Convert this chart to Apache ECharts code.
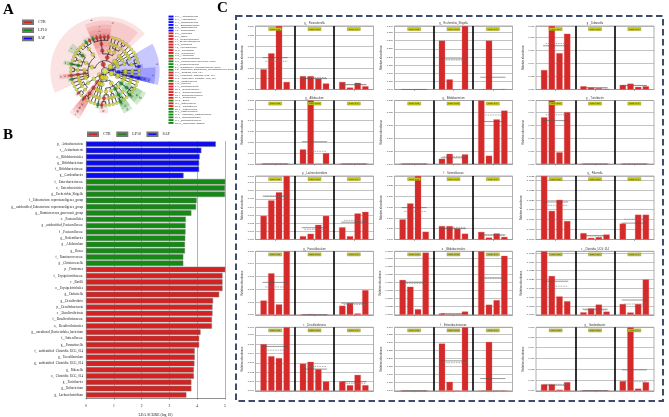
<!DOCTYPE html>
<html><head><meta charset="utf-8">
<script src="https://cdn.jsdelivr.net/npm/echarts@6/dist/echarts.min.js"></script>
<style>html,body{margin:0;padding:0;background:#fff}#c{width:669px;height:417px}</style>
</head><body><div id="c"></div>
<script>
// ================= DATA =================
// Panel B: LDA scores
const ldaFeatures = [
'p__Actinobacteriota','c__Actinobacteria','o__Bifidobacteriales','g__Bifidobacterium','f__Bifidobacteriaceae','g__Gordonibacter',
'f__Enterobacteriaceae','o__Enterobacteriales','g__Escherichia_Shigella','f__Eubacterium_coprostanoligenes_group','g__unidentified_Eubacterium_coprostanoligenes_group','g__Ruminococcus_gauvreauii_group','o__Pasteurellales','g__unidentified_Pasteurellaceae','f__Pasteurellaceae','g__Rodentibacter','g__Allobaculum','g__Bosea','f__Ruminococcaceae','g__Christensenella',
'p__Firmicutes','f__Erysipelotrichaceae','c__Bacilli','o__Erysipelotrichales','g__Dubosiella','g__Desulfovibrio','p__Desulfobacterota','c__Desulfovibrionia','f__Desulfovibrionaceae','o__Desulfovibrionales','g__uncultured_Bacteroidales_bacterium','f__Sutterellaceae','g__Parasutterella','f__unidentified_Clostridia_UCG_014','g__Faecalibaculum','g__unidentified_Clostridia_UCG_014','g__Rikenella','o__Clostridia_UCG_014','g__Turicibacter','g__Ileibacterium','g__Lachnoclostridium'];
const ldaScores = [
4.67,4.15,4.09,4.07,4.07,3.51,
5.02,5.00,5.00,3.98,3.96,3.79,3.59,3.58,3.58,3.57,3.56,3.56,3.50,3.50,
5.01,4.91,4.91,4.91,4.79,4.57,4.55,4.55,4.53,4.53,4.12,4.07,4.07,3.91,3.91,3.90,3.88,3.88,3.79,3.79,3.61];
const ldaGroups = [
'SAP','SAP','SAP','SAP','SAP','SAP',
'LP10','LP10','LP10','LP10','LP10','LP10','LP10','LP10','LP10','LP10','LP10','LP10','LP10','LP10',
'CTR','CTR','CTR','CTR','CTR','CTR','CTR','CTR','CTR','CTR','CTR','CTR','CTR','CTR','CTR','CTR','CTR','CTR','CTR','CTR','CTR'];
const classNames = ['CTR','LP10','SAP'];

// Panel C: relative abundance of 4 samples per class
const panelTitles = [
'g__Parasutterella','g__Escherichia_Shigella','g__Dubosiella',
'g__Allobaculum','g__Bifidobacterium','g__Turicibacter',
'g__Lachnoclostridium','f__Sutterellaceae','g__Rikenella',
'g__Faecalibaculum','o__Bifidobacteriales','c__Clostridia_UCG_014',
'c__Desulfovibrionia','f__Enterobacteriaceae','g__Gordonibacter'];
const panelIntervals = [0.005,0.05,0.002, 0.01,0.005,0.001, 0.001,0.005,0.0005, 0.001,0.0025,0.0005, 0.001,0.05,0.001];
const ctrValues = [
[0.0094,0.0168,0.0295,0.0035],[0.0002,0.0001,0.0003,0.0001],[0.0030,0.0098,0.0056,0.0086],
[0.0001,0.0000,0.0002,0.0001],[0.0000,0.0001,0.0000,0.0000],[0.0036,0.0049,0.0009,0.0040],
[0.0029,0.0048,0.0058,0.0078],[0.0093,0.0167,0.0294,0.0036],[0.0032,0.00144,0.0020,0.00093],
[0.0011,0.0032,0.0008,0.0049],[0.0107,0.0086,0.0017,0.0191],[0.0036,0.0022,0.00104,0.00077],
[0.0050,0.0037,0.0035,0.0068],[0.0002,0.0001,0.0001,0.0002],[0.0006,0.0006,0.0001,0.0008]];
const lp10Values = [
[0.0062,0.0062,0.0050,0.0028],[0.30,0.062,0.0003,0.39],[0.0005,0.0003,0.0002,0.0001],
[0.0133,0.058,0.0001,0.0099],[0.0020,0.0039,0.0000,0.0037],[0.0000,0.0000,0.0000,0.0000],
[0.0004,0.0007,0.0018,0.0029],[0.0062,0.0062,0.0050,0.0027],[0.00032,0.00008,0.00012,0.00025],
[0.0000,0.00005,0.0000,0.0000],[0.0004,0.0000,0.0000,0.0010],[0.00014,0.00036,0.00058,0.00018],
[0.0029,0.0031,0.0023,0.0010],[0.29,0.055,0.0003,0.39],[0.00003,0.00003,0.00002,0.00003]];
const sapValues = [
[0.0035,0.0009,0.0031,0.0015],[0.0001,0.30,0.0001,0.001],[0.0007,0.0009,0.0004,0.0005],
[0.0001,0.0001,0.0000,0.0001],[0.0245,0.0032,0.0172,0.0206],[0.0000,0.0000,0.0000,0.0000],
[0.0015,0.0004,0.0032,0.0034],[0.0035,0.0009,0.0028,0.0012],[0.0008,0.0000,0.00125,0.00125],
[0.0007,0.0009,0.0001,0.0019],[0.0195,0.0031,0.0045,0.0181],[0.00061,0.00013,0.00061,0.0020],
[0.0010,0.0006,0.0017,0.0006],[0.0001,0.30,0.0001,0.0005],[0.0009,0.0059,0.0002,0.0008]];

// Panel A: taxonomic tree (indent = level), |GROUP marks biomarkers
const cladeText = `
p__Actinobacteriota|SAP
 c__Actinobacteria|SAP
  o__Bifidobacteriales|SAP
   f__Bifidobacteriaceae|SAP
    g__Bifidobacterium|SAP
  o__Corynebacteriales
   f__Corynebacteriaceae
    g__Corynebacterium
  o__Micrococcales
   f__Micrococcaceae
    g__Rothia
 c__Coriobacteriia
  o__Coriobacteriales
   f__Eggerthellaceae
    g__Gordonibacter|SAP
    g__Adlercreutzia
    g__Enterorhabdus
   f__Atopobiaceae
    g__Olsenella
p__Patescibacteria
 c__Saccharimonadia
  o__Saccharimonadales
   f__Saccharimonadaceae
    g__Candidatus_Saccharimonas
p__Deferribacterota
 c__Deferribacteres
  o__Deferribacterales
   f__Deferribacteraceae
    g__Mucispirillum
p__Firmicutes|CTR
 c__Negativicutes
  o__Veillonellales
   f__Veillonellaceae
    g__Veillonella
 c__Bacilli|CTR
  o__Lactobacillales
   f__Lactobacillaceae
    g__Lactobacillus
    g__Ligilactobacillus
   f__Streptococcaceae
    g__Lactococcus
   f__Enterococcaceae
    g__Enterococcus
  o__Staphylococcales
   f__Staphylococcaceae
    g__Staphylococcus
  o__Erysipelotrichales|CTR
   f__Erysipelotrichaceae|CTR
    g__Dubosiella|CTR
    g__Faecalibaculum|CTR
    g__Turicibacter|CTR
    g__Ileibacterium|CTR
    g__Allobaculum|LP10
 c__Clostridia
  o__Lachnospirales
   f__Lachnospiraceae
    g__Lachnoclostridium|CTR
    g__Ruminococcus_gauvreauii_group|LP10
    g__Blautia
    g__Roseburia
  o__Oscillospirales
   f__Ruminococcaceae|LP10
    g__Ruminococcus
    g__Incertae_Sedis
   f__Oscillospiraceae
    g__Oscillibacter
    g__Colidextribacter
   f__Eubacterium_coprostanoligenes_group|LP10
    g__unidentified_Eubacterium_coprostanoligenes_group|LP10
  o__Peptostreptococcales
   f__Peptostreptococcaceae
    g__Romboutsia
    g__Clostridioides
  o__Clostridia_UCG_014|CTR
   f__unidentified_Clostridia_UCG_014|CTR
    g__unidentified_Clostridia_UCG_014|CTR
  o__Christensenellales
   f__Christensenellaceae
    g__Christensenella|LP10
  o__Clostridiales
   f__Clostridiaceae
    g__Clostridium_sensu_stricto_1
p__Bacteroidota
 c__Bacteroidia
  o__Bacteroidales
   f__Muribaculaceae
    g__Muribaculum
   f__Bacteroidaceae
    g__Bacteroides
   f__Rikenellaceae
    g__Rikenella|CTR
    g__Alistipes
p__Desulfobacterota|CTR
 c__Desulfovibrionia|CTR
  o__Desulfovibrionales|CTR
   f__Desulfovibrionaceae|CTR
    g__Desulfovibrio|CTR
    g__Bilophila
p__Campylobacterota
 c__Campylobacteria
  o__Campylobacterales
   f__Helicobacteraceae
    g__Helicobacter
p__Verrucomicrobiota
 c__Verrucomicrobiae
  o__Verrucomicrobiales
   f__Akkermansiaceae
    g__Akkermansia
p__Proteobacteria
 c__Alphaproteobacteria
  o__Rhizobiales
   f__Beijerinckiaceae
    g__Bosea|LP10
 c__Gammaproteobacteria
  o__Burkholderiales
   f__Sutterellaceae|CTR
    g__Parasutterella|CTR
    g__Sutterella
   f__Comamonadaceae
    g__Comamonas
  o__Pseudomonadales
   f__Moraxellaceae
    g__Acinetobacter
   f__Pseudomonadaceae
    g__Pseudomonas
  o__Pasteurellales|LP10
   f__Pasteurellaceae|LP10
    g__unidentified_Pasteurellaceae|LP10
    g__Rodentibacter
  o__Aeromonadales
   f__Aeromonadaceae
    g__Aeromonas
  o__Enterobacteriales|LP10
   f__Enterobacteriaceae|LP10
    g__Escherichia_Shigella|LP10
    g__Klebsiella
    g__Enterobacter
p__Fusobacteriota
 c__Fusobacteriia
  o__Fusobacteriales
   f__Fusobacteriaceae
    g__Fusobacterium
p__Cyanobacteria
 c__Vampirivibrionia
  o__Gastranaerophilales
   f__Gastranaerophilales_fam
    g__Gastranaerophilales_gen
`;

// ================= STYLE =================
const SERIF = "'Liberation Serif','DejaVu Serif',serif";
const SANS = "'Liberation Sans','DejaVu Sans',sans-serif";
const GROUP_COLORS = {CTR:'#d42222', LP10:'#148a14', SAP:'#0b0bf2'};
const SHADE = {CTR:'rgba(226,70,70,0.15)', LP10:'rgba(40,165,40,0.22)', SAP:'rgba(25,25,250,0.24)'};

// ================= CLADOGRAM LAYOUT =================
function parseClade(text){
  const root = {name:'root', group:'', depth:0, children:[]};
  const stack = [root];
  text.split('\n').forEach(line => {
    if (!line.trim()) return;
    const depth = line.match(/^ */)[0].length + 1;
    const parts = line.trim().split('|');
    const node = {name:parts[0], group:parts[1]||'', depth, children:[]};
    stack[depth-1].children.push(node);
    stack[depth] = node; stack.length = depth+1;
  });
  return root;
}
const cladeRoot = parseClade(cladeText);
function countLeaves(n){ return n.children.length ? n.children.reduce((s,c)=>s+countLeaves(c),0) : 1; }
const NLEAF = countLeaves(cladeRoot), STEP = 360/NLEAF, OFFSET = -15;
const nodes = []; let leafIdx = 0;
function place(n){
  n.idx = nodes.length; nodes.push(n);
  if (n.children.length){
    n.children.forEach(place);
    const f = n.children[0], l = n.children[n.children.length-1];
    n.angle = (f.angle + l.angle)/2; n.a0 = f.a0; n.a1 = l.a1;
  } else {
    n.angle = OFFSET + (leafIdx+0.5)*STEP; leafIdx++; n.a0 = n.a1 = n.angle;
  }
}
place(cladeRoot);
const na = a => ((a % 360) + 360) % 360;
const outerR = d => 5.6 + (5-d)*0.6;
const coloredNodes = nodes.filter(n => n.group);
const codeOf = i => String.fromCharCode(97 + (i % 26)) + (i >= 26 ? String(Math.floor(i/26)-1) : '');
coloredNodes.forEach((n,i) => n.code = codeOf(i));

// ================= HELPERS =================
const mean = a => a.reduce((s,v)=>s+v,0)/a.length;
const median = a => { const s=[...a].sort((x,y)=>x-y), m=s.length/2; return s.length%2 ? s[Math.floor(m)] : (s[m-1]+s[m])/2; };

// ================= OPTION =================
const grids = [], xAxes = [], yAxes = [], series = [], graphics = [];

// ---- Panel B ----
grids.push({left:86, top:141, width:139, height:257, outerBoundsMode:'none', containLabel:false});
xAxes.push({gridIndex:0, type:'value', min:0, max:5, interval:1,
  axisLine:{show:true, lineStyle:{color:'#444', width:0.6}},
  axisTick:{show:true, length:1.5, lineStyle:{color:'#444', width:0.5}},
  axisLabel:{fontSize:3.6, margin:6, color:'#222', fontFamily:SERIF},
  splitLine:{show:true, lineStyle:{color:'#666', width:0.5}},
  name:'LDA SCORE (log 10)', nameLocation:'middle', nameGap:14,
  nameTextStyle:{fontSize:3.8, fontFamily:SERIF, color:'#222'}});
yAxes.push({gridIndex:0, type:'category', inverse:true, data:ldaFeatures,
  axisLine:{show:false}, axisTick:{show:false},
  axisLabel:{interval:0, fontSize:3.2, margin:3, color:'#222', fontFamily:SERIF}});
classNames.forEach(g => {
  series.push({type:'bar', name:g, xAxisIndex:0, yAxisIndex:0, stack:'lda', barCategoryGap:'13%',
    silent:true, itemStyle:{color:GROUP_COLORS[g], borderColor:'#777', borderWidth:0.5},
    data: ldaScores.map((v,i) => ldaGroups[i]===g ? v : '-')});
});

// ---- Panel C ----
const C_COL_LEFT = [255.5, 394.5, 536], C_ROW_TOP = [26, 100.5, 176, 251.3, 327.3], C_W = 118, C_H = 63.5;
panelTitles.forEach((title, p) => {
  const gi = p+1, row = Math.floor(p/3), col = p%3;
  const left = C_COL_LEFT[col], top = C_ROW_TOP[row];
  grids.push({left, top, width:C_W, height:C_H, show:true, borderColor:'#9a9a9a', borderWidth:0.8,
    backgroundColor:'#fff', outerBoundsMode:'none', containLabel:false});
  const dec = Math.max(3, (String(panelIntervals[p]).split('.')[1]||'').length);
  xAxes.push({gridIndex:gi, type:'category', data:classNames,
    axisLine:{show:true, lineStyle:{color:'#999', width:0.8}},
    axisTick:{show:true, alignWithLabel:true, length:1.5, lineStyle:{color:'#666', width:0.5}},
    axisLabel:{show:false},
    splitLine:{show:true, showMinLine:false, showMaxLine:false, lineStyle:{color:'#000', width:1.6}}});
  yAxes.push({gridIndex:gi, type:'value', min:0, max:'dataMax', interval:panelIntervals[p],
    axisLine:{show:false}, axisTick:{show:false},
    axisLabel:{fontSize:2.5, margin:1.5, color:'#333', fontFamily:SANS, formatter: v => v.toFixed(dec)},
    splitLine:{show:true, lineStyle:{color:'#9a9a9a', width:0.6}},
    name:'Relative abundance', nameLocation:'middle', nameGap:9,
    nameTextStyle:{fontSize:2.8, color:'#333', fontFamily:SANS}});
  const groupVals = [ctrValues[p], lp10Values[p], sapValues[p]];
  for (let k=0;k<4;k++){
    series.push({type:'bar', xAxisIndex:gi, yAxisIndex:gi, silent:true, barWidth:6.3, barGap:'22%',
      itemStyle:{color:'#d42a2a', borderColor:'#ea6a6a', borderWidth:0.3},
      data: groupVals.map(v => v[k])});
  }
  series.push({type:'custom', xAxisIndex:gi, yAxisIndex:gi, silent:true, z:5,
    data: groupVals.map((v,g) => [g, mean(v), median(v)]),
    encode:{x:0, y:[1,2]},
    renderItem(params, api){
      const c = api.coord([api.value(0), api.value(1)]);
      const m = api.coord([api.value(0), api.value(2)]);
      const w = api.size([1,0])[0]*0.32;
      return {type:'group', children:[
        {type:'line', shape:{x1:c[0]-w, y1:c[1], x2:c[0]+w, y2:c[1]}, style:{stroke:'#555', lineWidth:0.6}},
        {type:'line', shape:{x1:m[0]-w*0.8, y1:m[1], x2:m[0]+w, y2:m[1]}, style:{stroke:'#777', lineWidth:0.6, lineDash:[1.5,1]}}
      ]};
    }});
  series.push({type:'custom', xAxisIndex:gi, yAxisIndex:gi, silent:true, z:6,
    data: classNames.map((n,g) => [g, 0]),
    renderItem(params, api){
      const x = api.coord([api.value(0), 0])[0];
      const t = params.coordSys.y;
      return {type:'group', children:[
        {type:'rect', shape:{x:x-6.5, y:t+1.6, width:13, height:3}, style:{fill:'#c9c91c', stroke:'#73730a', lineWidth:0.35}},
        {type:'text', x:x, y:t+3.15, style:{text:'class: '+classNames[api.value(0)], align:'center', verticalAlign:'middle', fontSize:2.1, fill:'#333', fontFamily:SANS}}
      ]};
    }});
  graphics.push({type:'text', x:left+C_W/2, y:top-0.8, silent:true,
    style:{text:title, align:'center', verticalAlign:'bottom', fontSize:2.6, fill:'#333', fontFamily:SANS}});
});

// ---- Panel A (cladogram on polar axes) ----
series.push({type:'custom', coordinateSystem:'polar', silent:true, z:1,
  data: coloredNodes.map(n => [n.depth, na(n.angle), n.idx]),
  renderItem(params, api){
    const n = nodes[api.value(2)];
    const r0 = n.depth-0.5, r1 = outerR(n.depth);
    const a0 = n.a0 - STEP*0.48, a1 = n.a1 + STEP*0.48;
    const k = Math.max(2, Math.ceil((a1-a0)/2)), pts = [];
    for (let i=0;i<=k;i++) pts.push(api.coord([r1, na(a0+(a1-a0)*i/k)]));
    for (let i=k;i>=0;i--) pts.push(api.coord([r0, na(a0+(a1-a0)*i/k)]));
    return {type:'polygon', shape:{points:pts}, style:{fill:SHADE[n.group]}};
  }});
series.push({type:'custom', coordinateSystem:'polar', silent:true, z:2,
  data: nodes.filter(n => n.children.length).map(n => [n.depth, na(n.angle), n.idx]),
  renderItem(params, api){
    const n = nodes[api.value(2)];
    const rm = n.depth + 0.5, rc = n.depth + 1, ch = n.children;
    const lo = Math.min(n.angle, ch[0].angle), hi = Math.max(n.angle, ch[ch.length-1].angle);
    const st = {stroke:'#111', lineWidth:0.75, fill:null};
    const items = [];
    const k = Math.max(2, Math.ceil((hi-lo)/2)), arc = [];
    for (let i=0;i<=k;i++) arc.push(api.coord([rm, na(lo+(hi-lo)*i/k)]));
    items.push({type:'polyline', shape:{points:arc}, style:st});
    if (n.depth > 0){
      const p0 = api.coord([n.depth, na(n.angle)]), p1 = api.coord([rm, na(n.angle)]);
      items.push({type:'line', shape:{x1:p0[0], y1:p0[1], x2:p1[0], y2:p1[1]}, style:st});
    }
    ch.forEach(c => {
      const q0 = api.coord([rm, na(c.angle)]), q1 = api.coord([rc, na(c.angle)]);
      items.push({type:'line', shape:{x1:q0[0], y1:q0[1], x2:q1[0], y2:q1[1]}, style:st});
    });
    return {type:'group', children:items};
  }});
const NODE_SIZE = [5, 4.6, 4.1, 3.7, 3.4, 3.1];
series.push({type:'scatter', name:'clade nodes', coordinateSystem:'polar', silent:true, z:3,
  data: nodes.map(n => ({value:[n.depth, na(n.angle)], symbolSize:NODE_SIZE[n.depth],
    itemStyle:{color: n.group ? GROUP_COLORS[n.group] : '#dcdc2a', borderColor:'#555', borderWidth:0.35}}))});
series.push({type:'custom', coordinateSystem:'polar', silent:true, z:4,
  data: coloredNodes.map(n => [n.depth, na(n.angle), n.idx]),
  renderItem(params, api){
    const n = nodes[api.value(2)];
    const deg = na(n.angle);
    const p = api.coord([outerR(n.depth)-0.3, deg]);
    const rot = (deg > 90 && deg < 270 ? deg-180 : deg) * Math.PI/180;
    return {type:'text', x:p[0], y:p[1], rotation:rot,
      style:{text:n.code, align:'center', verticalAlign:'middle', fontSize:2.6, fill:'#111', fontFamily:SANS}};
  }});
// cladogram key
coloredNodes.forEach((n,i) => {
  const y = 16.5 + i*2.8;
  graphics.push({type:'rect', silent:true, shape:{x:168.5, y:y-0.9, width:5, height:1.9}, style:{fill:GROUP_COLORS[n.group]}});
  graphics.push({type:'text', silent:true, x:175, y:y, style:{text:n.code+': '+n.name, verticalAlign:'middle', fontSize:2.3, fill:'#333', fontFamily:SANS}});
});

// ---- decorations ----
graphics.push({type:'rect', silent:true, shape:{x:236, y:16, width:427, height:385},
  style:{fill:null, stroke:'#3d4b6d', lineWidth:2, lineDash:[6.5,3.5]}});
[['A',3,3],['B',3,128],['C',217,1]].forEach(([t,x,y]) => graphics.push({type:'text', silent:true, x, y,
  style:{text:t, fontSize:15, fontWeight:'bold', fontFamily:SERIF, fill:'#000', verticalAlign:'top'}}));

const option = {
  animation:false, backgroundColor:'#fff',
  polar:{center:[105,71], radius:58},
  angleAxis:{type:'value', min:0, max:360, startAngle:0, clockwise:false, show:false},
  radiusAxis:{type:'value', min:0, max:8.5, show:false},
  legend:[
    {data:classNames, top:131.5, left:87, padding:0, itemWidth:10, itemHeight:3.5, itemGap:5.5, icon:'rect',
      textStyle:{fontSize:4, fontFamily:SERIF, color:'#222'}},
    {data:classNames, orient:'vertical', top:19.5, left:22, padding:0, itemWidth:10, itemHeight:3.5, itemGap:2.6, icon:'rect',
      textStyle:{fontSize:4, fontFamily:SERIF, color:'#222'}}
  ],
  grid:grids, xAxis:xAxes, yAxis:yAxes, series, graphic:graphics
};
const chart = echarts.init(document.getElementById('c'));
chart.setOption(option);
</script></body></html>
